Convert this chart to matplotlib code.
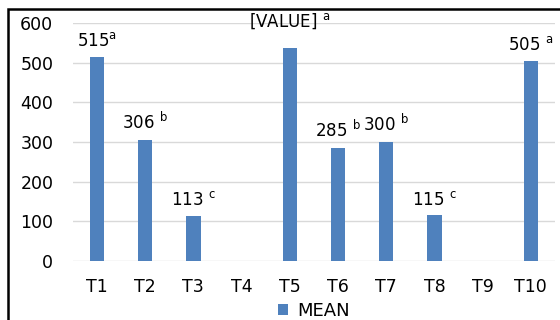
import numpy as np
import matplotlib.pyplot as plt
from matplotlib.patches import Rectangle

plt.rcParams['font.family'] = ['DejaVu Sans']
plt.rcParams['mathtext.fontset'] = 'custom'
plt.rcParams['mathtext.rm'] = 'DejaVu Sans'

# treatment means with significance letters (T4, T9 have no bar)
treatments = ['T1', 'T2', 'T3', 'T4', 'T5', 'T6', 'T7', 'T8', 'T9', 'T10']
means = [515, 306, 113, np.nan, 536, 285, 300, 115, np.nan, 505]
value_text = ['515', '306 ', '113 ', '', '[VALUE] ', '285 ', '300 ', '115 ', '', '505 ']
letters = ['a', 'b', 'c', '', 'a', 'b', 'b', 'c', '', 'a']
label_lift = [5, 5, 5, 0, 12.5, 5, 5, 5, 0, 5]

fig = plt.figure(figsize=(5.6, 3.2), dpi=100)
ax = fig.add_axes([0.130, 0.184, 0.861, 0.744])

x = np.arange(len(treatments))
ax.bar(x, means, width=0.3, color='#4F81BD', zorder=3, label='MEAN')

for xi, m, txt, let, lift in zip(x, means, value_text, letters, label_lift):
    if np.isnan(m):
        continue
    ax.annotate(txt + r'$^{\mathrm{' + let + '}}$', xy=(xi, m),
                xytext=(0, lift), textcoords='offset points',
                ha='center', va='bottom', fontsize=12)

ax.set_xlim(-0.5, 9.5)
ax.set_ylim(0, 600)
ax.set_yticks(range(0, 601, 100))
ax.set_xticks(x)
ax.set_xticklabels(treatments)
ax.grid(axis='y', color='#D9D9D9', lw=1, zorder=0)
ax.tick_params(axis='both', length=0, labelsize=12.5)
ax.tick_params(axis='y', pad=14)
ax.tick_params(axis='x', pad=12)
for s in ax.spines.values():
    s.set_visible(False)

ax.legend(loc='center', bbox_to_anchor=(314 / 560, 1 - 311 / 320),
          bbox_transform=fig.transFigure,
          frameon=False, fontsize=13, handlelength=0.55, handleheight=0.55,
          handletextpad=0.5)

# outer chart frame, running off the right and bottom edges
fig.patches.append(Rectangle((8 / 560, -0.1), 1.2, 1 - 9 / 320 + 0.1,
                             transform=fig.transFigure, fill=False,
                             edgecolor='black', lw=1.8))

plt.savefig('out.png', dpi=100)
